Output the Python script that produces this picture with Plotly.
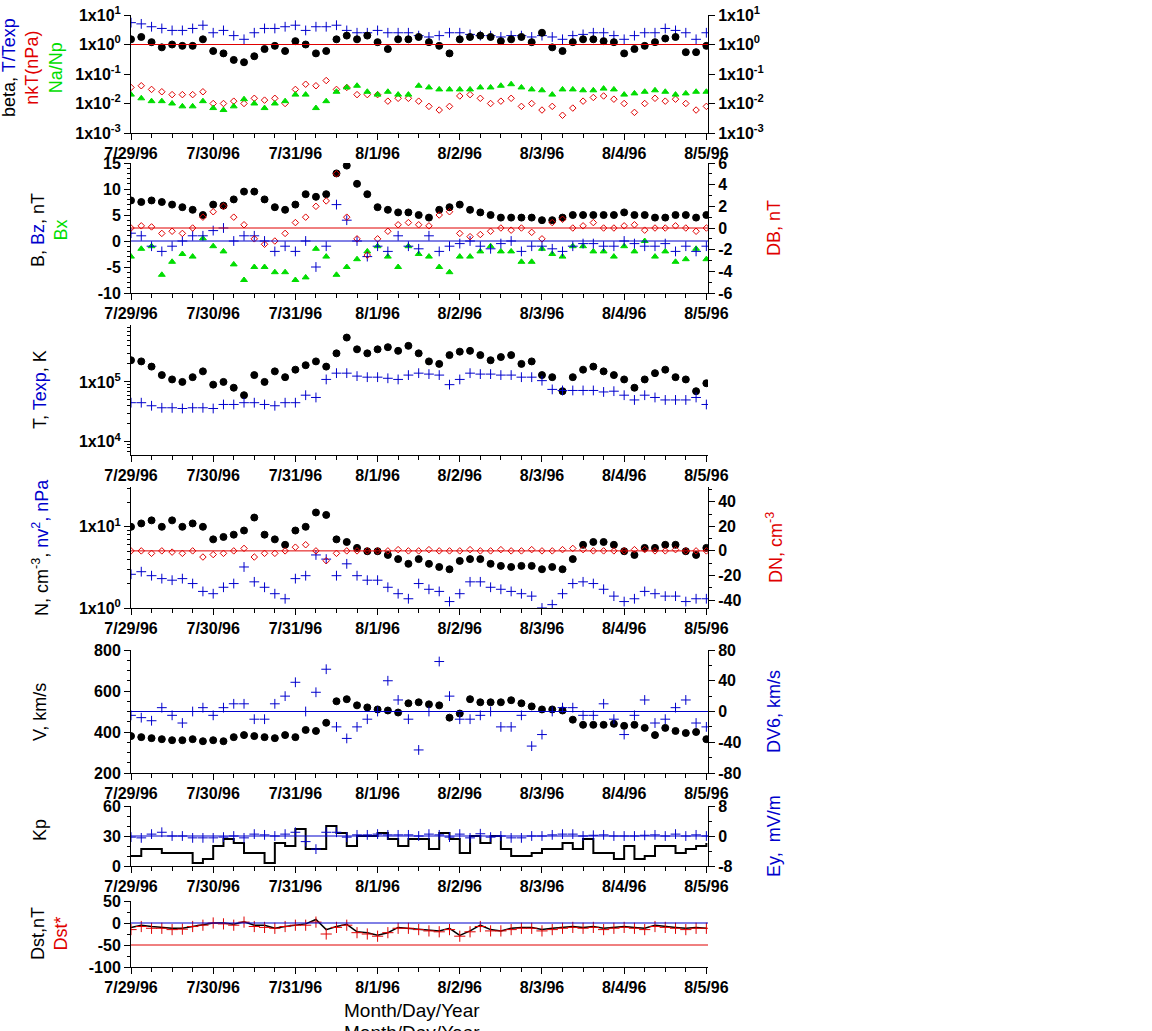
import plotly.graph_objects as go

# time in days after 7/29/96 00:00, 3-hour samples
t = [i / 8 for i in range(57)]
date_labels = ['7/29/96', '7/30/96', '7/31/96', '8/1/96', '8/2/96', '8/3/96', '8/4/96', '8/5/96']

# panel 1
beta = [1.5, 1.8, 1.2, 0.8, 1.0, 0.9, 0.9, 1.5,
        0.6, 0.5, 0.3, 0.25, 0.4, 0.7, 0.9, 0.6,
        1.3, 1.0, 0.5, 0.6, 1.5, 2.0, 1.5, 2.0,
        1.2, 0.7, 1.5, 1.5, 1.8, 1.2, 0.9, 0.5,
        1.5, 1.8, 2.0, 1.8, 1.3, 1.5, 1.8, 1.2,
        2.5, 0.8, 0.6, 1.2, 1.5, 1.5, 1.3, 1.2,
        0.5, 0.7, 0.9, 1.2, 1.6, 1.8, 0.55, 0.55, 0.9]
t_texp = [5.5, 5, 4, 3.5, 3, 3, 3.5, 4.5,
          2.5, 3, 2, 1.5, 2.5, 3.5, 3.5, 4,
          4.5, 3, 4, 4, 4.5, 3, 2.5, 2.5,
          3, 2.5, 2.5, 2.5, 2, 1.8, 2, 2.5,
          2.5, 2.2, 2, 2, 1.8, 2, 2, 1.8,
          2, 1.8, 1.5, 2, 2.2, 2.5, 2.5, 2,
          1.5, 2, 2.5, 2.5, 3.5, 3, 2.5, 1.5, 2.5]
nkt = [0.035, 0.04, 0.03, 0.025, 0.02, 0.02, 0.02, 0.025,
       0.01, 0.01, 0.012, 0.01, 0.015, 0.013, 0.015, 0.01,
       0.03, 0.045, 0.04, 0.06, 0.03, 0.035, 0.02, 0.02,
       0.02, 0.012, 0.015, 0.015, 0.012, 0.008, 0.006, 0.008,
       0.018, 0.02, 0.015, 0.01, 0.012, 0.015, 0.008, 0.01,
       0.006, 0.008, 0.004, 0.007, 0.012, 0.016, 0.018, 0.014,
       0.01, 0.005, 0.01, 0.015, 0.012, 0.014, 0.01, 0.006, 0.008]
na_np = [0.02, 0.015, 0.012, 0.012, 0.01, 0.008, 0.008, 0.012,
         0.007, 0.006, 0.008, 0.014, 0.01, 0.007, 0.01, 0.012,
         0.02, 0.02, 0.007, 0.012, 0.025, 0.035, 0.04, 0.025,
         0.02, 0.025, 0.02, 0.02, 0.04, 0.035, 0.03, 0.03,
         0.03, 0.03, 0.035, 0.035, 0.04, 0.045, 0.035, 0.03,
         0.028, 0.02, 0.03, 0.03, 0.028, 0.028, 0.032, 0.03,
         0.02, 0.022, 0.025, 0.028, 0.025, 0.02, 0.022, 0.025, 0.025]

# panel 2
b_mag = [7.8, 7.5, 7.8, 7.5, 7, 6.5, 6, 5,
         7, 6.8, 8, 9.5, 9.5, 8, 6.5, 6,
         7, 9, 8.5, 9, 13, 14.5, 11, 9,
         6.5, 6, 5.5, 5.5, 5, 4.5, 6, 6.5,
         7, 6, 5.5, 5, 4.5, 4.5, 4.5, 4.5,
         4, 4, 4.5, 5, 5, 5, 5, 5,
         5.5, 5, 5, 4.5, 4.5, 5, 5, 4.5, 5]
bz = [1.5, 1, -1, -2, -1, 0, 1, 1,
      2, 2.5, 0, 1, 1, 0, -2, -1,
      -2, 0, -5, -1, 7, 4, 0, -3,
      -1, -2, 1, -1, -1.5, 1, -2, -1,
      -0.5, 0, -1, -1.5, -0.5, 0, -2, -1,
      -1, -1.5, -2, -1, -0.5, -0.5, -1, -1,
      0, -0.5, -1, -1, -0.5, -2, -1, -2, -1]
bx = [-3, -1.5, -1, -6.5, -4, -2.5, -3, 0.5,
      -1, -2, -4.5, -7.5, -5, -5, -6, -6,
      -7.5, -7, -1.5, -3, -6.5, -5, -3.5, -2,
      -1, -3, -5, -1, -2.5, -3, -5, -6,
      -3, -3, -2, -1, -2, -2, -4, -4,
      -1.5, -2.5, -3, -1, -1, -2, -2, -3,
      -1, -2, 0, -3, -2, -4, -3.5, -1.5, -3.5]
db = [0, 0.2, 0.1, -0.5, -0.3, -0.5, 0, 1,
      1.5, 2, 1, 0.3, -1, -1.5, -1.2, -0.5,
      0.5, 1, 2, 2.5, 5, 1, -1, -2.5,
      -1, -0.3, 0.3, 0.5, 0.3, 0.2, 1.2, 1.5,
      -0.5, -0.8, -0.6, -0.3, 0, -0.2, 0, -0.4,
      -1, 0.5, 0.8, 0, 0.2, 0.5, 0, 0,
      0.2, 0.3, -0.2, 0, 0, 0.2, 0, -0.3, 0]

# panel 3
temp = [2.3e5, 2.2e5, 1.8e5, 1.3e5, 1.1e5, 1.0e5, 1.2e5, 1.5e5,
        0.9e5, 1.0e5, 0.8e5, 0.6e5, 1.3e5, 1.0e5, 1.5e5, 1.2e5,
        1.6e5, 1.9e5, 2.2e5, 1.8e5, 3e5, 5.5e5, 3.5e5, 3e5,
        3.5e5, 3.8e5, 3.3e5, 4e5, 3e5, 2.2e5, 2e5, 2.8e5,
        3.2e5, 3.3e5, 2.8e5, 2.3e5, 2.6e5, 2.8e5, 2.0e5, 2.2e5,
        1.3e5, 1.2e5, 0.7e5, 1.2e5, 1.6e5, 1.8e5, 1.5e5, 1.3e5,
        1.1e5, 0.8e5, 1.1e5, 1.4e5, 1.6e5, 1.2e5, 1.1e5, 0.7e5, 0.95e5]
texp = [4.5e4, 4.5e4, 4e4, 3.7e4, 3.7e4, 3.6e4, 3.7e4, 3.7e4,
        3.6e4, 4.2e4, 4.2e4, 4.5e4, 4.5e4, 4.2e4, 4e4, 4.5e4,
        4.5e4, 6e4, 5.5e4, 1.1e5, 1.4e5, 1.4e5, 1.25e5, 1.2e5,
        1.2e5, 1.15e5, 1.1e5, 1.3e5, 1.4e5, 1.35e5, 1.3e5, 0.9e5,
        1.1e5, 1.4e5, 1.35e5, 1.35e5, 1.3e5, 1.3e5, 1.2e5, 1.2e5,
        1.05e5, 0.75e5, 0.72e5, 0.72e5, 0.72e5, 0.72e5, 0.68e5, 0.7e5,
        0.6e5, 0.5e5, 0.6e5, 0.55e5, 0.5e5, 0.5e5, 0.5e5, 0.55e5, 0.42e5]

# panel 4
dens = [10, 11, 12, 10, 12, 10, 11, 10,
        7, 7.5, 8, 9, 13, 8, 7, 6,
        9, 10, 15, 14, 7, 6.5, 5.5, 5,
        5, 4.5, 4, 3.5, 4, 3.5, 3.2, 3,
        3.8, 4, 4, 3.5, 3.3, 3.2, 3.3, 3.3,
        3, 3.2, 3, 4, 6, 6.5, 6.5, 6,
        5, 4.5, 5.5, 5.5, 6, 6, 5, 4.5, 5.5]
nv2 = [2.6, 2.8, 2.5, 2.3, 2.2, 2.3, 2.0, 1.6,
       1.5, 1.8, 2.0, 3.2, 2.1, 1.8, 1.5, 1.3,
       2.3, 2.5, 4.5, 4, 2.5, 3.5, 2.5, 2.2,
       2.2, 1.8, 1.5, 1.3, 2.0, 1.7, 1.6, 1.2,
       1.5, 2.1, 2.1, 1.8, 1.7, 1.6, 1.5, 1.4,
       1.0, 1.1, 1.5, 2.0, 2.1, 2.0, 1.7, 1.4,
       1.2, 1.3, 1.6, 1.5, 1.4, 1.4, 1.2, 1.3, 1.3]
dn = [0, 0, -2, 0, -1, -2, 0, -5,
      -3, -2, 0, 2, -5, -2, -2, 0,
      3, 5, 0, -8, -2, 0, 0, 0,
      0, 0, 1, 0, 0, 1, 0, 0,
      0, 1, 0, 0, 1, 0, 0, 1,
      0, 0, 1, 2, 1, 0, 0, 0,
      0, 1, 1, 0, 0, 1, 0, 0, 0]

# panel 5
vel = [380, 375, 370, 365, 360, 360, 365, 355,
       360, 355, 375, 385, 380, 375, 370, 385,
       375, 410, 405, 445, 550, 560, 530, 520,
       510, 505, 495, 540, 545, 535, 530, 470,
       490, 560, 545, 545, 545, 555, 540, 525,
       510, 510, 505, 460, 435, 435, 435, 440,
       430, 435, 420, 385, 420, 405, 395, 400, 365]
dv6 = [-5, -8, -12, 5, -5, -15, 0, 5,
       -5, 5, 10, 10, -10, -10, 10, 20,
       38, 0, 25, 55, -20, -35, -20, -10,
       0, 40, 15, -10, -50, 0, 65, 20,
       -10, -10, -5, 0, -20, -20, -5, -45,
       -30, 0, 5, 5, -5, -5, 10, -10,
       -30, -5, 15, -15, -10, 5, 15, -15, -20]

# panel 6
kp = [10, 17, 17, 13, 13, 13, 3, 7,
      20, 27, 23, 13, 13, 3, 23, 20,
      37, 17, 17, 40, 33, 20, 30, 30,
      33, 27, 20, 27, 27, 17, 33, 27,
      13, 30, 23, 30, 17, 10, 10, 13,
      17, 17, 23, 17, 27, 13, 13, 7,
      20, 7, 10, 20, 20, 13, 17, 20, 23]
ey = [-0.3, -0.5, 0.5, 1, 0, 0, -0.5, -0.5,
      -0.5, -0.3, 0, -0.5, 0.5, 0.3, 0, 0.5,
      1, -1.5, -3.5, 1, 1, -0.3, 0.3, 0.3,
      0.5, 0.3, 0.3, 0.3, 0, 0.5, 0.3, -0.3,
      0.5, -0.5, 0.6, -0.3, 0, -0.5, -0.5, 0,
      0, 0.3, 0.5, 0.5, 0, 0.2, 0.3, 0,
      0, 0, 0.2, 0.3, 0, 0.5, 0, 0.3, 0]

# panel 7
dst = [-10, -5, -8, -10, -12, -12, -8, -3,
       0, 0, -3, 3, -5, -5, -12, -8,
       -5, -2, 8, -15, -8, -3, -20, -22,
       -28, -22, -10, -12, -13, -15, -18, -12,
       -28, -18, -5, -15, -18, -12, -10, -10,
       -15, -12, -10, -8, -10, -8, -12, -10,
       -8, -10, -12, -5, -8, -10, -12, -10, -12]
dst_star = [-15, -8, -12, -12, -15, -14, -8, -5,
            0, -2, -5, 2, -8, -10, -12, -8,
            -5, -5, 2, -25, -10, -5, -22, -25,
            -30, -22, -12, -12, -15, -18, -20, -15,
            -30, -20, -8, -18, -18, -15, -12, -12,
            -18, -15, -12, -10, -12, -10, -15, -12,
            -10, -12, -15, -8, -10, -12, -15, -12, -12]

H = 1031
W = 1152
X0, X1 = 131 / W, 708 / W
panels = [(15, 133), (163, 293), (325, 455), (487, 608), (650, 773), (806, 866), (901, 967)]

tick_font = dict(family='Liberation Sans', size=16, color='black', weight='bold')
BLUE, RED, GREEN = '#0000cc', '#e00000', '#00dd00'


def dom(p):
    return [1 - p[1] / H, 1 - p[0] / H]


def sci(e):
    return '1x10<sup>%d</sup>' % e


def log_minor(lo, hi):
    return [m * 10 ** e for e in range(lo, hi) for m in range(2, 10)]


def lin_ticks(lo, hi, step):
    vals = list(range(lo, hi + 1, step))
    return dict(tickvals=vals, ticktext=[str(v) for v in vals])


fig = go.Figure()


def dots(x, y, xa, ya, color, symbol, size, name):
    fig.add_trace(go.Scatter(x=x, y=y, xaxis=xa, yaxis=ya, mode='markers', name=name,
                             marker=dict(color=color, symbol=symbol, size=size,
                                         line=dict(color=color, width=1))))


# panel 1
dots(t, t_texp, 'x', 'y', BLUE, 'cross-thin-open', 7, 'T/Texp')
dots(t, beta, 'x', 'y', 'black', 'circle', 7, 'beta')
dots(t, nkt, 'x', 'y', RED, 'diamond-open', 5, 'nkT')
dots(t, na_np, 'x', 'y8', GREEN, 'triangle-up', 6, 'Na/Np')
# panel 2
dots(t, b_mag, 'x2', 'y2', 'black', 'circle', 7, 'B')
dots(t, bx, 'x2', 'y2', GREEN, 'triangle-up', 6, 'Bx')
dots(t, bz, 'x2', 'y2', BLUE, 'cross-thin-open', 7, 'Bz')
dots(t, db, 'x2', 'y9', RED, 'diamond-open', 5, 'DB')
# panel 3
dots(t, temp, 'x3', 'y3', 'black', 'circle', 7, 'T')
dots(t, texp, 'x3', 'y3', BLUE, 'cross-thin-open', 7, 'Texp')
# panel 4
dots(t, dens, 'x4', 'y4', 'black', 'circle', 7, 'N')
dots(t, nv2, 'x4', 'y4', BLUE, 'cross-thin-open', 7, 'nv2')
dots(t, dn, 'x4', 'y10', RED, 'diamond-open', 5, 'DN')
# panel 5
dots(t, vel, 'x5', 'y5', 'black', 'circle', 7, 'V')
dots(t, dv6, 'x5', 'y11', BLUE, 'cross-thin-open', 7, 'DV6')
# panel 6
fig.add_trace(go.Scatter(x=t, y=kp, xaxis='x6', yaxis='y6', mode='lines', name='Kp',
                         line=dict(color='black', width=2, shape='hv')))
dots(t, ey, 'x6', 'y12', BLUE, 'cross-thin-open', 7, 'Ey')
# panel 7
fig.add_trace(go.Scatter(x=t, y=dst, xaxis='x7', yaxis='y7', mode='lines', name='Dst',
                         line=dict(color='black', width=1.5)))
dots(t, dst_star, 'x7', 'y7', RED, 'cross-thin-open', 8, 'Dst*')

layout = dict(width=W, height=H, margin=dict(l=0, r=0, t=0, b=0, autoexpand=False),
              paper_bgcolor='white', plot_bgcolor='white', showlegend=False)

ax_common = dict(showgrid=False, zeroline=False, showline=True, linecolor='black', automargin=False,
                 linewidth=1, ticks='outside', ticklen=6, tickcolor='black', tickfont=tick_font)


def mnr(d):
    return dict(minor=dict(dtick=d, ticks='outside', ticklen=3, tickcolor='black'))


for i, p in enumerate(panels):
    k = '' if i == 0 else str(i + 1)
    layout['xaxis' + k] = dict(ax_common, domain=[X0, X1], anchor='y' + k, range=[0, 7.02],
                               tickvals=list(range(8)), ticktext=date_labels,
                               minor=dict(dtick=0.25, ticks='outside', ticklen=4, tickcolor='black'))

# left y axes
layout['yaxis'] = dict(ax_common, domain=dom(panels[0]), anchor='x', type='log', range=[-3, 1],
                       tickvals=[10 ** e for e in range(-3, 2)], ticktext=[sci(e) for e in range(-3, 2)])
layout['yaxis2'] = dict(ax_common, domain=dom(panels[1]), anchor='x2', range=[-10, 15],
                        **lin_ticks(-10, 15, 5), **mnr(1))
layout['yaxis3'] = dict(ax_common, domain=dom(panels[2]), anchor='x3', type='log', range=[3.78, 5.95],
                        tickvals=[1e4, 1e5], ticktext=[sci(4), sci(5)],
                        minor=dict(tickvals=log_minor(3, 6), ticks='outside', ticklen=3, tickcolor='black'))
layout['yaxis4'] = dict(ax_common, domain=dom(panels[3]), anchor='x4', type='log', range=[0, 1.49],
                        tickvals=[1, 10], ticktext=[sci(0), sci(1)],
                        minor=dict(tickvals=log_minor(0, 2), ticks='outside', ticklen=3, tickcolor='black'))
layout['yaxis5'] = dict(ax_common, domain=dom(panels[4]), anchor='x5', range=[200, 800],
                        **lin_ticks(200, 800, 200), **mnr(50))
layout['yaxis6'] = dict(ax_common, domain=dom(panels[5]), anchor='x6', range=[0, 60],
                        **lin_ticks(0, 60, 30), **mnr(10))
layout['yaxis7'] = dict(ax_common, domain=dom(panels[6]), anchor='x7', range=[-100, 50],
                        **lin_ticks(-100, 50, 50), **mnr(25))

# right y axes
layout['yaxis8'] = dict(ax_common, overlaying='y', side='right', anchor='x', type='log', range=[-3, 1],
                        tickvals=[10 ** e for e in range(-3, 2)], ticktext=[sci(e) for e in range(-3, 2)])
layout['yaxis9'] = dict(ax_common, overlaying='y2', side='right', anchor='x2', range=[-6, 6],
                        **lin_ticks(-6, 6, 2), **mnr(1))
layout['yaxis10'] = dict(ax_common, overlaying='y4', side='right', anchor='x4', range=[-46.5, 52],
                         **lin_ticks(-40, 40, 20), **mnr(10))
layout['yaxis11'] = dict(ax_common, overlaying='y5', side='right', anchor='x5', range=[-80, 80],
                         **lin_ticks(-80, 80, 40), **mnr(20))
layout['yaxis12'] = dict(ax_common, overlaying='y6', side='right', anchor='x6', range=[-8, 8],
                         **lin_ticks(-8, 8, 8), **mnr(4))

fig.update_layout(**layout)

# reference lines
for yref, val, color in [('y', 1, RED), ('y2', 0, BLUE), ('y9', 0, RED), ('y10', 0, RED),
                         ('y11', 0, BLUE), ('y12', 0, BLUE), ('y7', 0, BLUE), ('y7', -50, RED)]:
    xref = {'y': 'x', 'y2': 'x2', 'y9': 'x2', 'y10': 'x4', 'y11': 'x5', 'y12': 'x6', 'y7': 'x7'}[yref]
    fig.add_shape(type='line', xref=xref + ' domain', yref=yref, x0=0, x1=1, y0=val, y1=val,
                  line=dict(color=color, width=1))


def side_title(text, px, py, size=18):
    fig.add_annotation(text=text, x=px / W, y=1 - py / H, xref='paper', yref='paper',
                       xanchor='center', yanchor='middle',
                       textangle=-90, showarrow=False, align='center',
                       font=dict(family='Liberation Sans', size=size, color='black'))


def c(txt, col):
    return '<span style="color:%s">%s</span>' % (col, txt)


side_title('beta, ' + c('T/Texp', BLUE) + '<br>' + c('nkT(nPa)', RED) + '<br>' + c('Na/Np', GREEN), 32, 68)
side_title('B, ' + c('Bz', BLUE) + ', nT<br>' + c('Bx', GREEN), 49, 230)
side_title('T, ' + c('Texp', BLUE) + ', K', 40, 390)
side_title('N, cm<sup>-3</sup>, ' + c('nv<sup>2</sup>, nPa', BLUE), 40, 548)
side_title('V, km/s', 40, 712)
side_title('Kp', 40, 830)
side_title('Dst,nT<br>' + c('Dst*', RED), 49, 934)
side_title(c('DB, nT', RED), 774, 228)
side_title(c('DN, cm<sup>-3</sup>', RED), 774, 548)
side_title(c('DV6, km/s', BLUE), 774, 712)
side_title(c('Ey,  mV/m', BLUE), 774, 836)

for py in [1010, 1032]:
    fig.add_annotation(text='Month/Day/Year', x=412 / W, y=1 - py / H, xanchor='center', yanchor='middle',
                       xref='paper', yref='paper', showarrow=False,
                       font=dict(family='Liberation Sans', size=19, color='black'))

fig.write_html('out.html', config={'displayModeBar': False},
               post_script="document.body.style.margin='0';")
